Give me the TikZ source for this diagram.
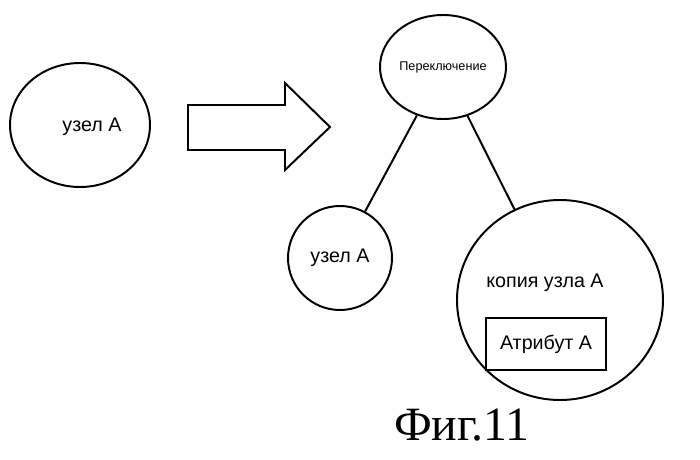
\documentclass[tikz,border=0pt]{standalone}
\usepackage{fontspec}
\setmainfont{Liberation Sans}
\newfontfamily\capfont{Liberation Serif}
\usetikzlibrary{shapes.geometric}
\begin{document}
\begin{tikzpicture}[x=0.025cm,y=-0.025cm,line width=1.4pt,
  blob/.style={draw=black,ellipse,inner sep=0pt},
  txt/.style={font=\fontsize{14}{16}\selectfont}]
\useasboundingbox (0,0) rectangle (700,460);
%Left node
\node[blob,minimum width=140*0.025cm,minimum height=124*0.025cm](N1) at (80,125) {};
\node[txt](T1) at (92,127) {узел А};

%Block arrow
\draw (188,105)--(285,105)--(285,83)--(330,127)--(285,170)--(285,150)--(188,150)--cycle;

%Tree
\node[blob,minimum width=126*0.025cm,minimum height=104*0.025cm](N2) at (443,67) {};
\node[font=\fontsize{9}{11}\selectfont](T2) at (443,67) {Переключение};
\node[blob,minimum width=104*0.025cm,minimum height=104*0.025cm](N3) at (340,258) {};
\node[txt](T3) at (340,258) {узел А};
\node[blob,minimum width=206*0.025cm,minimum height=200*0.025cm](N4) at (560,300) {};
\node[txt](T4) at (545,283) {копия узла А};
\node[draw=black,txt,minimum width=120*0.025cm,minimum height=52*0.025cm](A1) at (546,344) {Атрибут А};

\draw (N2)--(N3);
\draw (N2)--(N4);

\node[font=\capfont\fontsize{34}{38}\selectfont](C) at (462,425) {Фиг.11};
\end{tikzpicture}
\end{document}
